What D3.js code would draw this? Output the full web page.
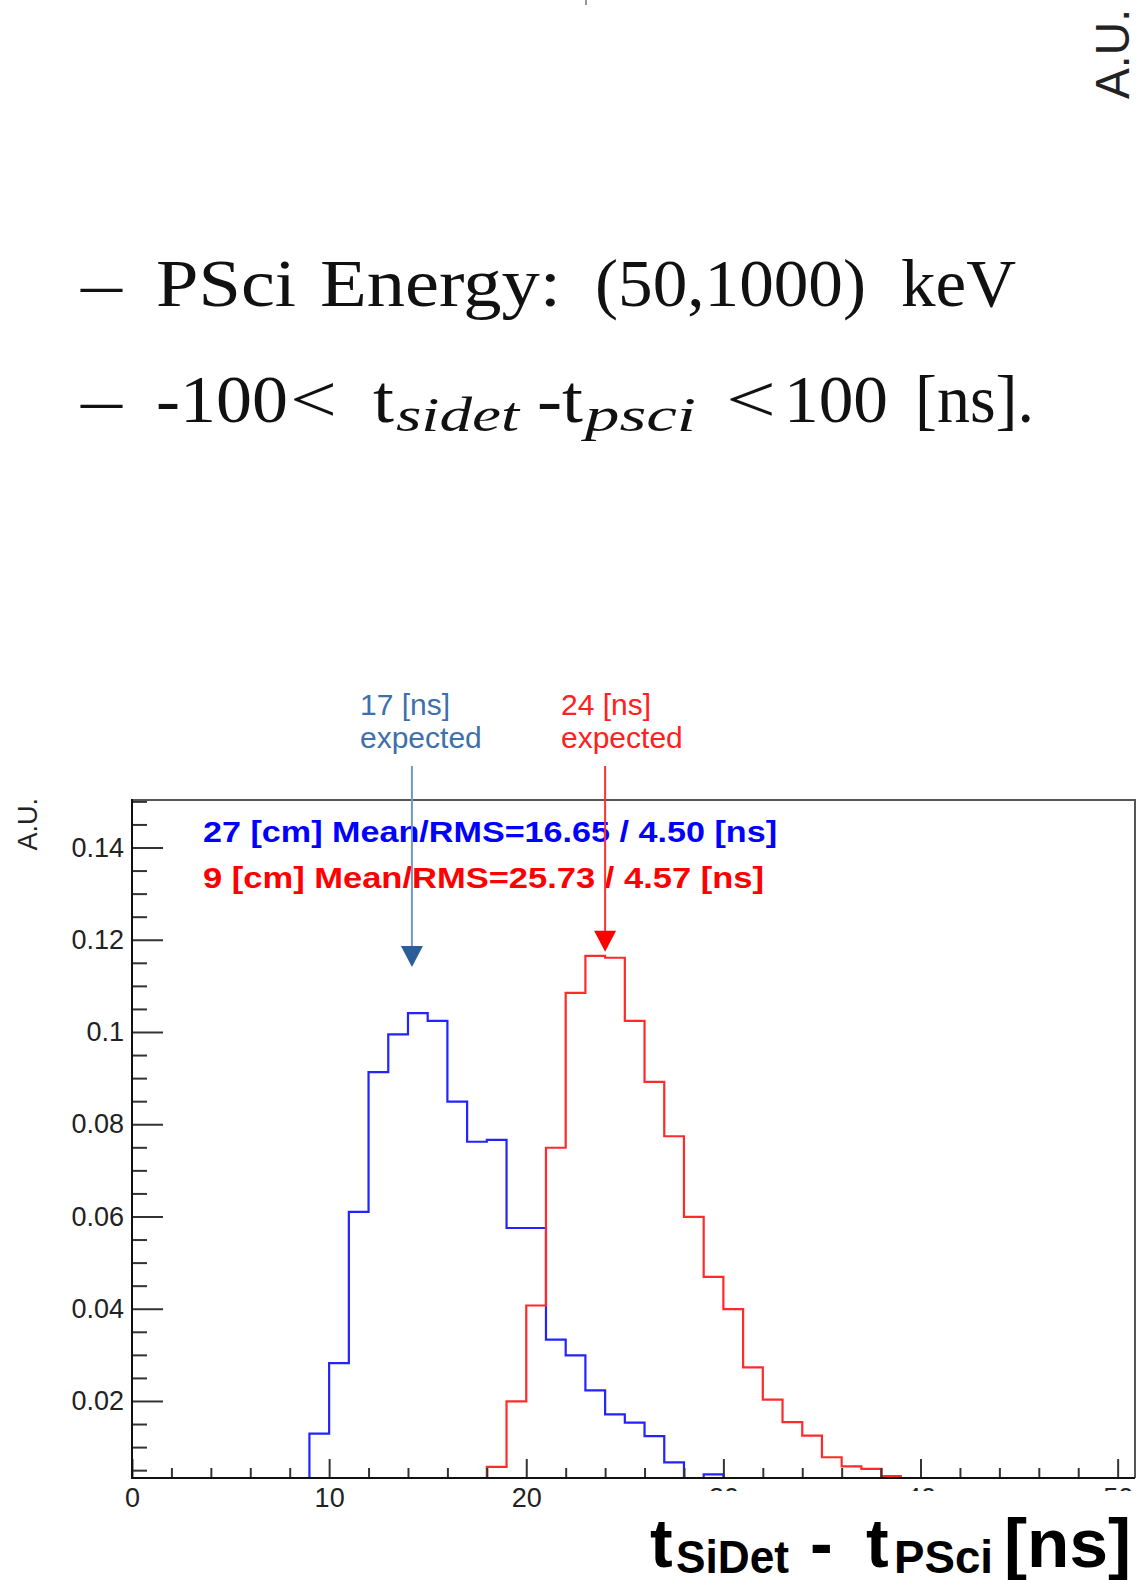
<!DOCTYPE html>
<html>
<head>
<meta charset="utf-8">
<script src="https://cdn.jsdelivr.net/npm/d3@7"></script>
<style>
  html, body { margin: 0; padding: 0; background: #fff; }
  svg { display: block; }
</style>
</head>
<body>
<svg id="chart" width="1140" height="1580"></svg>
<script>
// ---- data -------------------------------------------------------------
// lower edge of each 1 ns bin of t_SiDet - t_PSci
const binLow = [0,1,2,3,4,5,6,7,8,9,10,11,12,13,14,15,16,17,18,19,20,
                21,22,23,24,25,26,27,28,29,30,31,32,33,34,35,36,37,38,39,40,
                41,42,43,44,45,46,47,48,49,50];

// normalised bin contents, 27 cm separation
const sep27 = [0,0,0,0,0,0,0,0,0,
               0.0129,0.0282,0.0610,0.0913,0.0995,0.1041,0.1024,0.0849,0.0762,0.0766,
               0.0575,0.0575,0.0333,0.0299,0.0223,0.0171,0.0153,0.0124,0.0067,0,0.0041,
               0,0,0,0,0,0,0,0,0,0,0,0,0,0,0,0,0,0,0,0,0];

// normalised bin contents, 9 cm separation
const sep9 = [0,0,0,0,0,0,0,0,0,0,0,0,0,0,0,0,0,0,
              0.0057,0.0199,0.0407,0.0749,0.1085,0.1165,0.1161,0.1024,0.0892,0.0774,
              0.0599,0.0469,0.0399,0.0273,0.0203,0.0154,0.0125,0.0078,0.0058,0.0053,0.0037,
              0,0,0,0,0,0,0,0,0,0,0,0];

const legendLines = ["27 [cm] Mean/RMS=16.65 / 4.50 [ns]",
                     "9 [cm] Mean/RMS=25.73 / 4.57 [ns]"];

// expected arrival markers: [label line 1, label line 2, arrow x (ns), arrow tip (A.U.)]
const expectedNotes = [["17 [ns]", "expected", 14.2, 0.1141],
                       ["24 [ns]", "expected", 24.0, 0.1174]];

const xMajor = [0,10,20,30,40,50];
const xTickLabels = ["0","10","20","30","40","50"];
const yMajor = [0.02,0.04,0.06,0.08,0.10,0.12,0.14];
const yTickLabels = ["0.02","0.04","0.06","0.08","0.1","0.12","0.14"];

// ---- layout -----------------------------------------------------------
const svg = d3.select("#chart");
const L = 132, R = 1135, T = 800, B = 1478;
const xDomain = [0, 50.88];
const yDomain = [0.0033, 0.1503];

const x = d3.scaleLinear().domain(xDomain).range([L, R]);
const y = d3.scaleLinear().domain(yDomain).range([B, T]).clamp(true);

const sans = "'Liberation Sans', Arial, Helvetica, sans-serif";
const serif = "'Liberation Serif', 'Times New Roman', serif";

const defs = svg.append("defs");
defs.append("clipPath").attr("id", "plotArea")
  .append("rect").attr("x", L).attr("y", T - 2).attr("width", R - L).attr("height", B - T + 4);
// the x-axis title panel hides the lower part of the right-hand tick labels
defs.append("clipPath").attr("id", "tickLabelArea")
  .append("path").attr("d", "M0,0H1140V1491H600V1580H0Z");

// ---- bullet lines above the plot -------------------------------------
// tiny mark at the top edge
svg.append("line").attr("x1", 586).attr("x2", 586).attr("y1", 0).attr("y2", 5)
  .attr("stroke", "#777").attr("stroke-width", 1.5);

// rotated unit label at the top right
svg.append("text")
  .attr("transform", "translate(1129,99) rotate(-90)")
  .attr("font-family", sans).attr("font-size", 48).attr("fill", "#222")
  .attr("textLength", 90).attr("lengthAdjust", "spacingAndGlyphs")
  .text("A.U.");

function seg(txt, x0, x1, base, size, italic) {
  svg.append("text")
    .attr("x", x0).attr("y", base)
    .attr("font-family", serif).attr("font-size", size)
    .attr("font-style", italic ? "italic" : "normal")
    .attr("fill", "#111")
    .attr("textLength", x1 - x0).attr("lengthAdjust", "spacingAndGlyphs")
    .text(txt);
}
// line 1
seg("\u2013", 81, 122, 306, 68);
seg("PSci", 156, 296, 306, 68);
seg("Energy:", 320, 561, 306, 68);
seg("(50,1000)", 595, 866, 306, 68);
seg("keV", 901, 1016, 306, 68);
// line 2
seg("\u2013", 81, 122, 422, 68);
seg("-100", 156, 288, 422, 68);
seg("<", 290, 337, 422, 68);
seg("t", 373, 394, 422, 68);
seg("sidet", 396, 519, 431, 48, true);
seg("-t", 537, 583, 422, 68);
seg("psci", 585, 696, 431, 48, true);
seg("<", 726, 776, 422, 68);
seg("100", 784, 888, 422, 68);
seg("[ns].", 915, 1034, 422, 68);

// ---- histograms -------------------------------------------------------
function stepPath(vals) {
  const pts = vals.map((v, i) => [binLow[i], v]);
  pts.push([binLow[binLow.length - 1] + 1, vals[vals.length - 1]]);
  return d3.line().x(d => x(d[0])).y(d => y(d[1])).curve(d3.curveStepAfter)(pts);
}

const plot = svg.append("g").attr("clip-path", "url(#plotArea)");
plot.append("path").attr("d", stepPath(sep27))
  .attr("fill", "none").attr("stroke", "#2323ff").attr("stroke-width", 2.2);

// ---- axes and frame ---------------------------------------------------
const axisColor = "#222";
const xMinor = d3.range(0, 51, 2).filter(v => v % 10 !== 0);
const yMinor = d3.range(1, 31).map(k => +(k * 0.005).toFixed(3))
  .filter(v => v > yDomain[0] && v <= yDomain[1] && !yMajor.some(m => Math.abs(m - v) < 1e-9));

const gxMinor = svg.append("g").attr("transform", `translate(0,${B})`)
  .call(d3.axisBottom(x).tickValues(xMinor).tickSize(-10).tickFormat(""));
const gx = svg.append("g").attr("clip-path", "url(#tickLabelArea)")
  .append("g").attr("transform", `translate(0,${B})`)
  .call(d3.axisBottom(x).tickValues(xMajor).tickSize(-19).tickPadding(10)
        .tickFormat((d, i) => xTickLabels[i]));
const gyMinor = svg.append("g").attr("transform", `translate(${L},0)`)
  .call(d3.axisLeft(y).tickValues(yMinor).tickSize(-15).tickFormat(""));
const gy = svg.append("g").attr("transform", `translate(${L},0)`)
  .call(d3.axisLeft(y).tickValues(yMajor).tickSize(-31).tickPadding(8)
        .tickFormat((d, i) => yTickLabels[i]));

[gxMinor, gx, gyMinor, gy].forEach(g => {
  g.select(".domain").remove();
  g.selectAll(".tick line").attr("stroke", "#333").attr("stroke-width", 2);
  g.selectAll(".tick text").attr("font-family", sans).attr("font-size", 27).attr("fill", axisColor);
});

// frame: top and right in grey, axis lines in black
svg.append("path").attr("d", `M${L},${T}H${R}V${B}`)
  .attr("fill", "none").attr("stroke", "#555").attr("stroke-width", 2);
svg.append("path").attr("d", `M${L},${T - 1}V${B}H${R}`)
  .attr("fill", "none").attr("stroke", "#111").attr("stroke-width", 2);

// y-axis title
svg.append("text")
  .attr("transform", `translate(37,${T - 2}) rotate(-90)`)
  .attr("text-anchor", "end")
  .attr("font-family", sans).attr("font-size", 27).attr("fill", axisColor)
  .text("A.U.");

plot.append("path").attr("d", stepPath(sep9))
  .attr("fill", "none").attr("stroke", "#ff2b2b").attr("stroke-width", 2.2);

// ---- legend text ------------------------------------------------------
svg.append("text").attr("x", 203).attr("y", 842)
  .attr("font-family", sans).attr("font-weight", "bold").attr("font-size", 30)
  .attr("fill", "#0000ff").attr("textLength", 574).attr("lengthAdjust", "spacingAndGlyphs")
  .text(legendLines[0]);
svg.append("text").attr("x", 203).attr("y", 888)
  .attr("font-family", sans).attr("font-weight", "bold").attr("font-size", 30)
  .attr("fill", "#ff0000").attr("textLength", 561).attr("lengthAdjust", "spacingAndGlyphs")
  .text(legendLines[1]);

// ---- expected-time arrows and notes -----------------------------------
const noteStyles = [
  { text: "#3e70aa", line: "#6f9ac8", head: "#2b5e98", tx: 360 },
  { text: "#ff2020", line: "#ff3030", head: "#ff0000", tx: 561 }
];
expectedNotes.forEach((n, i) => {
  const s = noteStyles[i];
  const ax = x(n[2]);
  const tip = y(n[3]);
  const headH = 21, headW = 22;
  svg.append("line").attr("x1", ax).attr("x2", ax).attr("y1", 766).attr("y2", tip - headH + 1)
    .attr("stroke", s.line).attr("stroke-width", 2);
  svg.append("path")
    .attr("d", `M${ax - headW / 2},${tip - headH}L${ax + headW / 2},${tip - headH}L${ax},${tip}Z`)
    .attr("fill", s.head);
  svg.append("text").attr("x", s.tx).attr("y", 715)
    .attr("font-family", sans).attr("font-size", 30).attr("fill", s.text).text(n[0]);
  svg.append("text").attr("x", s.tx).attr("y", 748)
    .attr("font-family", sans).attr("font-size", 30).attr("fill", s.text).text(n[1]);
});

// ---- x-axis title (on its own white panel) -----------------------------
svg.append("rect").attr("x", 600).attr("y", 1491).attr("width", 540).attr("height", 89)
  .attr("fill", "#fff");
function titlePart(txt, x0, base, size, len) {
  const t = svg.append("text").attr("x", x0).attr("y", base)
    .attr("font-family", sans).attr("font-weight", "bold").attr("font-size", size)
    .attr("fill", "#000").text(txt);
  if (len) t.attr("textLength", len).attr("lengthAdjust", "spacingAndGlyphs");
}
titlePart("t", 650, 1567, 68);
titlePart("SiDet", 676, 1573, 46, 113);
titlePart("-", 810, 1567, 68);
titlePart("t", 866, 1567, 68);
titlePart("PSci", 894, 1573, 46, 99);
titlePart("[ns]", 1004, 1567, 68, 127);
</script>
</body>
</html>
